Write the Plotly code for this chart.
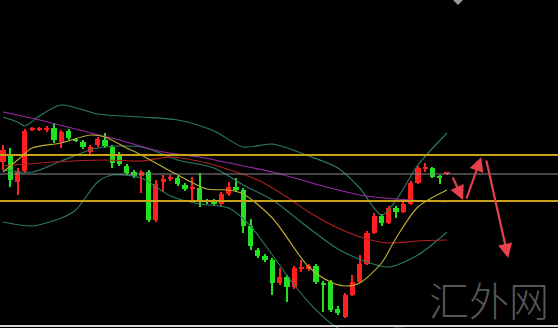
import plotly.graph_objects as go

# ---- candle data (notional price scale) ----
opens  = [1.1166,1.1173,1.1146,1.1157,1.1198,1.1198,1.1198,1.1200,1.1186,1.1197,
          1.1189,1.1186,1.1176,1.1183,1.1188,1.1181,1.1174,1.1162,1.1156,1.1152,
          1.1156,1.1108,1.1146,1.1149,1.1150,1.1143,1.1139,1.1140,1.1128,1.1127,
          1.1124,1.1134,1.1141,1.1138,1.1102,1.1078,1.1072,1.1068,1.1045,1.1051,
          1.1041,1.1059,1.1059,1.1062,1.1045,1.1046,1.1019,1.1011,1.1033,1.1046,
          1.1064,1.1095,1.1112,1.1105,1.1120,1.1116,1.1124,1.1145,1.1159,1.1160,
          1.1151,1.1154]
highs  = [1.1183,1.1180,1.1160,1.1199,1.1201,1.1201,1.1202,1.1205,1.1198,1.1199,
          1.1190,1.1188,1.1183,1.1191,1.1195,1.1183,1.1176,1.1164,1.1158,1.1158,
          1.1158,1.1148,1.1153,1.1153,1.1152,1.1145,1.1151,1.1155,1.1129,1.1129,
          1.1136,1.1146,1.1150,1.1140,1.1109,1.1080,1.1074,1.1070,1.1060,1.1053,
          1.1062,1.1068,1.1064,1.1064,1.1047,1.1048,1.1022,1.1035,1.1053,1.1073,
          1.1097,1.1115,1.1114,1.1122,1.1122,1.1126,1.1147,1.1162,1.1165,1.1161,
          1.1153,1.1156]
lows   = [1.1158,1.1141,1.1133,1.1155,1.1197,1.1197,1.1196,1.1185,1.1180,1.1188,
          1.1186,1.1179,1.1174,1.1181,1.1180,1.1160,1.1162,1.1153,1.1150,1.1135,
          1.1106,1.1106,1.1136,1.1147,1.1142,1.1137,1.1128,1.1121,1.1124,1.1122,
          1.1122,1.1132,1.1136,1.1095,1.1078,1.1070,1.1066,1.1033,1.1043,1.1026,
          1.1039,1.1056,1.1057,1.1044,1.1016,1.1016,1.1013,1.1010,1.1032,1.1045,
          1.1063,1.1094,1.1102,1.1104,1.1110,1.1115,1.1123,1.1144,1.1156,1.1150,
          1.1144,1.1153]
closes = [1.1178,1.1148,1.1157,1.1197,1.1200,1.1200,1.1200,1.1188,1.1196,1.1190,
          1.1187,1.1181,1.1181,1.1189,1.1182,1.1165,1.1164,1.1155,1.1152,1.1156,
          1.1108,1.1144,1.1149,1.1151,1.1144,1.1139,1.1141,1.1128,1.1126,1.1124,
          1.1134,1.1141,1.1138,1.1102,1.1082,1.1072,1.1068,1.1045,1.1051,1.1041,
          1.1060,1.1060,1.1062,1.1046,1.1043,1.1018,1.1015,1.1033,1.1046,1.1064,
          1.1095,1.1112,1.1105,1.1120,1.1116,1.1124,1.1145,1.1160,1.1161,1.1151,
          1.1150,1.1155]

# ---- indicator lines: (bar index, value) ----
purple_x = [0, 5, 11, 16, 22, 27, 33, 37, 41, 45, 49, 54, 61]
purple_y = [1.1216,1.1208,1.1197,1.1188,1.1176,1.1171,1.1162,1.1156,1.1148,1.1140,1.1133,1.1129,1.1126]

red_x = [0, 7, 14, 19, 23, 28, 32, 35, 39, 42, 46, 50, 53, 57, 61]
red_y = [1.1162,1.1166,1.1168,1.1167,1.1171,1.1165,1.1156,1.1148,1.1131,1.1116,1.1100,1.1089,1.1085,1.1087,1.1088]

yellow_x = [0, 2, 4, 8, 12, 14, 17, 19, 23, 28, 31, 33, 37, 42, 45, 47, 49, 52, 54, 57, 61]
yellow_y = [1.1156,1.1168,1.1180,1.1185,1.1193,1.1191,1.1180,1.1173,1.1157,1.1139,1.1138,
            1.1134,1.1110,1.1061,1.1046,1.1042,1.1045,1.1065,1.1090,1.1121,1.1138]

upper_x = [0, 2, 3, 5, 8, 13, 19, 24, 29, 33, 37, 42, 46, 49, 52, 54, 57, 61]
upper_y = [1.1211,1.1206,1.1202,1.1212,1.1223,1.1214,1.1211,1.1208,1.1197,1.1181,1.1184,
           1.1172,1.1160,1.1140,1.1113,1.1128,1.1163,1.1195]

mid_x = [0, 4, 8, 13, 19, 24, 29, 33, 37, 42, 46, 50, 53, 57, 61]
mid_y = [1.1158,1.1156,1.1167,1.1180,1.1181,1.1168,1.1160,1.1143,1.1128,1.1100,1.1079,
         1.1066,1.1061,1.1073,1.1096]

lower_x = [0, 4, 8, 10, 13, 15, 19, 23, 27, 31, 34, 37, 40, 43, 46, 50, 54, 58, 61]
lower_y = [1.1106,1.1102,1.1110,1.1118,1.1146,1.1153,1.1150,1.1132,1.1124,1.1120,1.1102,
           1.1073,1.1043,1.1018,1.1000,1.0995,1.1000,1.0998,1.0997]

# ---- horizontal levels ----
resist_level = 1.1173
support_level = 1.1127
ref_level = 1.1154

# ---- projected path (bar index, price) ----
path_x = [61.7, 63.2, 63.6, 65.7, 66.35, 69.4]
path_y = [1.1152, 1.1128, 1.1128, 1.1171, 1.1169, 1.1070]

watermark = "汇外网"

UP = "#ff1f1f"
DOWN = "#22e022"

n = len(opens)
idx = list(range(n))
colors = [UP if c >= o else DOWN for o, c in zip(opens, closes)]
body_base = [min(o, c) for o, c in zip(opens, closes)]
body_h = [max(abs(c - o), 0.00016) for o, c in zip(opens, closes)]
wick_h = [h - l for h, l in zip(highs, lows)]

fig = go.Figure()

def line(xs, ys, color, w=1.1):
    fig.add_trace(go.Scatter(x=xs, y=ys, mode="lines",
                             line=dict(color=color, width=w, shape="spline", smoothing=0.8),
                             hoverinfo="skip"))

line(upper_x, upper_y, "#2c7a66")
line(lower_x, lower_y, "#2c7a66")
line(mid_x, mid_y, "#2c7a66")
line(red_x, red_y, "#b02020")
line(purple_x, purple_y, "#9a2aa8")
line(yellow_x, yellow_y, "#c2b030")

fig.add_trace(go.Bar(x=idx, y=wick_h, base=lows, width=0.14,
                     marker=dict(color=colors, line=dict(width=0)), hoverinfo="skip"))
fig.add_trace(go.Bar(x=idx, y=body_h, base=body_base, width=0.72,
                     marker=dict(color=colors, line=dict(width=0)), hoverinfo="skip"))

xr = [-0.412, 76.24]
for lvl, col, w in [(resist_level, "#c9a21a", 2), (support_level, "#c9a21a", 2), (ref_level, "#8a8a8a", 1)]:
    fig.add_shape(type="line", xref="paper", x0=0, x1=1, yref="y", y0=lvl, y1=lvl,
                  line=dict(color=col, width=w), layer="above")

for k in range(0, len(path_x), 2):
    fig.add_annotation(x=path_x[k + 1], y=path_y[k + 1], ax=path_x[k], ay=path_y[k],
                       xref="x", yref="y", axref="x", ayref="y", showarrow=True,
                       arrowhead=2, arrowsize=1.3, arrowwidth=2.2, arrowcolor="#e8404c", text="")

fig.add_annotation(text=watermark, x=489 / 558, y=1 - 299 / 328, xref="paper", yref="paper",
                   xanchor="center", yanchor="middle", showarrow=False,
                   font=dict(family="Noto Sans CJK SC", size=40, color="#575757", weight=300))

# bottom frame line and small marker at top
fig.add_shape(type="line", xref="paper", yref="paper", x0=0, x1=1, y0=2 / 328, y1=2 / 328,
              line=dict(color="#d8d8d8", width=2))
fig.add_shape(type="path", xref="paper", yref="paper",
              path=f"M {453/558} 1 L {463/558} 1 L {458/558} {1-5/328} Z",
              fillcolor="#9a9a9a", line=dict(width=0))

fig.update_layout(width=558, height=328, margin=dict(l=0, r=0, t=0, b=0),
                  paper_bgcolor="black", plot_bgcolor="black", showlegend=False,
                  barmode="overlay", bargap=0)
fig.update_xaxes(range=xr, visible=False, showgrid=False)
fig.update_yaxes(range=[1.1000, 1.1328], visible=False, showgrid=False)

fig.write_html("out.html")
